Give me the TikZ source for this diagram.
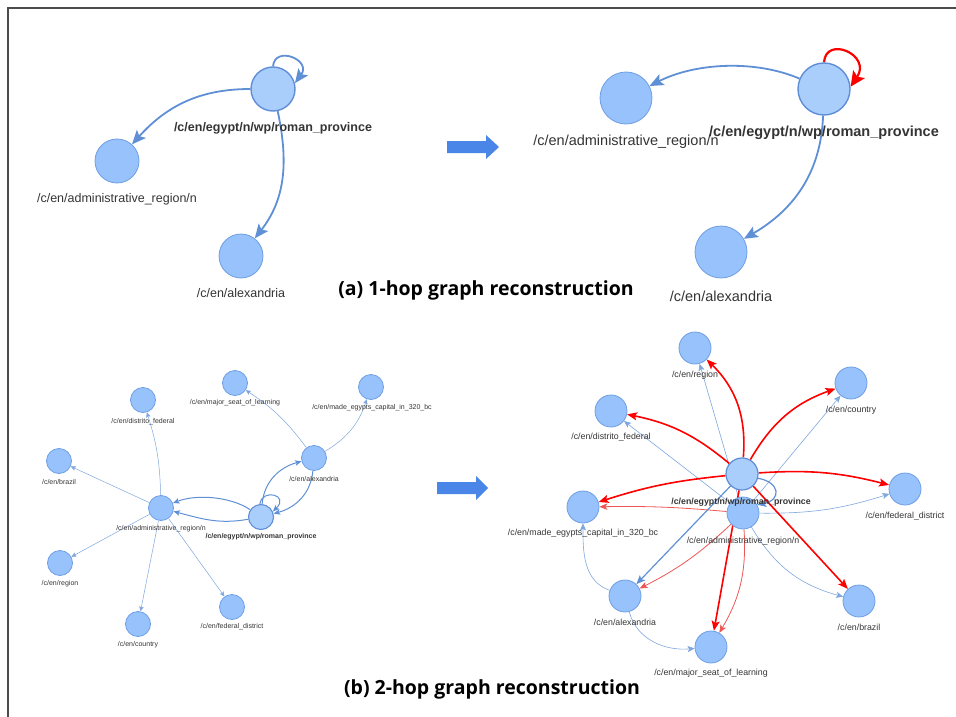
\documentclass[tikz,border=0pt]{standalone}
\usepackage{fontspec}
\setmainfont{Liberation Sans}
\newfontfamily\titlefont{Open Sans}
\usetikzlibrary{arrows.meta,backgrounds}
\definecolor{nodefill}{HTML}{97C2FC}
\definecolor{hubfill}{HTML}{AACEFC}
\definecolor{nodeline}{HTML}{6E9EE3}
\definecolor{hubline}{HTML}{5F8ED6}
\definecolor{edgeblue}{HTML}{5F8FD4}
\definecolor{thinblue}{HTML}{7FA6DD}
\definecolor{edgered}{HTML}{FF0000}
\definecolor{thinred}{HTML}{EE5555}
\definecolor{labtext}{HTML}{343434}
\definecolor{bigblue}{HTML}{4A86E8}

\begin{document}
\begin{tikzpicture}[x=1pt,y=-1pt,
  vtx/.style={circle,draw=nodeline,fill=nodefill,line width=0.8pt,inner sep=0pt},
  hub/.style={vtx,fill=hubfill,draw=hubline,line width=1.4pt},
  lab/.style={text=labtext,inner sep=0pt},
  labA/.style={lab,font=\fontsize{12.5}{14}\selectfont},
  labB/.style={lab,font=\fontsize{14.5}{16}\selectfont},
  labC/.style={lab,font=\fontsize{7}{8}\selectfont},
  labD/.style={lab,font=\fontsize{8.8}{10}\selectfont},
  title/.style={inner sep=0pt,font=\titlefont\bfseries\fontsize{19.5}{22}\selectfont},
  edgeA/.style={draw=edgeblue,line width=1.8pt,-{Stealth[length=14pt,width=12pt,inset=3pt]}},
  loopA/.style={draw=edgered,line width=2.2pt,-{Stealth[length=15pt,width=14pt,inset=3pt]}},
  thinC/.style={draw=thinblue,line width=0.5pt,-{Stealth[length=5pt,width=4.5pt,inset=1pt]}},
  boldC/.style={draw=edgeblue,line width=1pt,-{Stealth[length=6.5pt,width=5.5pt,inset=1.5pt]}},
  thinD/.style={draw=thinblue,line width=0.6pt,-{Stealth[length=7pt,width=6pt,inset=1.5pt]}},
  boldD/.style={draw=edgeblue,line width=1.2pt,-{Stealth[length=9pt,width=7.5pt,inset=2pt]}},
  redD/.style={draw=edgered,line width=1.6pt,-{Stealth[length=10pt,width=8pt,inset=2pt]}},
  pinkD/.style={draw=thinred,line width=0.8pt,-{Stealth[length=8pt,width=6.5pt,inset=2pt]}}]
\useasboundingbox (0,0) rectangle (956,717);
\draw[gray!60!black,line width=1.2pt] (8,717) -- (8,8) -- (956,8);

% (a) 1-hop, before
\node[hub,minimum size=44] (eg1) at (273,89) {};
\node[vtx,minimum size=44] (ad1) at (117,161) {};
\node[vtx,minimum size=44] (al1) at (241,256) {};
\node[labA,font=\fontsize{12.5}{14}\selectfont\bfseries] (eg1l) at (273,128) {/c/en/egypt/n/wp/roman\_province};
\node[labA] (ad1l) at (117,199) {/c/en/administrative\_region/n};
\node[labA] (al1l) at (241,293) {/c/en/alexandria};

% (a) 1-hop, after
\node[hub,minimum size=52] (eg2) at (824,89) {};
\node[vtx,minimum size=52] (ad2) at (626,98) {};
\node[vtx,minimum size=52] (al2) at (721,252) {};
\node[labB] (ad2l) at (626,142) {/c/en/administrative\_region/n};
\node[labB,font=\fontsize{14.5}{16}\selectfont\bfseries] (eg2l) at (824,133) {/c/en/egypt/n/wp/roman\_province};
\node[labB] (al2l) at (721,296) {/c/en/alexandria};

\fill[bigblue] (447,141) -- (486,141) -- (486,135) -- (499,147) -- (486,159) -- (486,153) -- (447,153) -- cycle;
\node[title] (ttlA) at (486,290) {(a) 1-hop graph reconstruction};

% (b) 2-hop, before
\node[vtx,minimum size=25] (df3) at (143,400) {};
\node[vtx,minimum size=25] (br3) at (59,461) {};
\node[vtx,minimum size=25] (ad3) at (161,508) {};
\node[vtx,minimum size=25] (rg3) at (60,563) {};
\node[vtx,minimum size=25] (co3) at (138,624) {};
\node[vtx,minimum size=25] (ms3) at (235,383) {};
\node[vtx,minimum size=25] (mc3) at (371,387) {};
\node[vtx,minimum size=25] (al3) at (314,458) {};
\node[hub,minimum size=25,line width=1.1pt] (eg3) at (261,517) {};
\node[vtx,minimum size=25] (fd3) at (232,607) {};
\node[labC] (df3l) at (143,422) {/c/en/distrito\_federal};
\node[labC] (br3l) at (59,482) {/c/en/brazil};
\node[labC] (ad3l) at (161,529) {/c/en/administrative\_region/n};
\node[labC] (rg3l) at (60,584) {/c/en/region};
\node[labC] (co3l) at (138,645) {/c/en/country};
\node[labC] (ms3l) at (235,403) {/c/en/major\_seat\_of\_learning};
\node[labC] (mc3l) at (372,408) {/c/en/made\_egypts\_capital\_in\_320\_bc};
\node[labC] (al3l) at (314,479) {/c/en/alexandria};
\node[labC,font=\fontsize{7}{8}\selectfont\bfseries] (eg3l) at (261,537) {/c/en/egypt/n/wp/roman\_province};
\node[labC] (fd3l) at (232,627) {/c/en/federal\_district};

\fill[bigblue] (437,482) -- (476,482) -- (476,476) -- (488,488) -- (476,500) -- (476,494) -- (437,494) -- cycle;
\node[title] (ttlB) at (492,689) {(b) 2-hop graph reconstruction};

% (b) 2-hop, after
\node[vtx,minimum size=32] (rg4) at (695,348) {};
\node[vtx,minimum size=32] (df4) at (611,411) {};
\node[vtx,minimum size=32] (mc4) at (583,507) {};
\node[vtx,minimum size=32] (ad4) at (743,513) {};
\node[hub,minimum size=32,line width=1.2pt] (eg4) at (742,474) {};
\node[vtx,minimum size=32] (co4) at (851,383) {};
\node[vtx,minimum size=32] (fd4) at (905,489) {};
\node[vtx,minimum size=32] (br4) at (859,601) {};
\node[vtx,minimum size=32] (al4) at (625,596) {};
\node[vtx,minimum size=32] (ms4) at (711,647) {};
\node[labD] (rg4l) at (695,375) {/c/en/region};
\node[labD] (df4l) at (611,437) {/c/en/distrito\_federal};
\node[labD] (mc4l) at (583,533) {/c/en/made\_egypts\_capital\_in\_320\_bc};
\node[labD] (ad4l) at (743,541) {/c/en/administrative\_region/n};
\node[labD,font=\fontsize{8.8}{10}\selectfont\bfseries] (eg4l) at (741,502) {/c/en/egypt/n/wp/roman\_province};
\node[labD] (co4l) at (851,410) {/c/en/country};
\node[labD] (fd4l) at (905,516) {/c/en/federal\_district};
\node[labD] (br4l) at (859,627) {/c/en/brazil};
\node[labD] (al4l) at (625,622) {/c/en/alexandria};
\node[labD] (ms4l) at (711,673) {/c/en/major\_seat\_of\_learning};

\begin{scope}[on background layer]
% (a) edges
\draw[edgeA] (eg1) to[out=180,in=48] (ad1);
\draw[edgeA] (eg1) to[out=-78,in=52] (al1);
\draw[edgeA] (eg1.90) .. controls (275,45) and (312,60) .. (eg1.15);
\draw[edgeA] (eg2) to[out=157,in=27,looseness=0.85] (ad2);
\draw[edgeA] (eg2) to[out=-92,in=30] (al2);
\draw[loopA] (eg2.90) .. controls (826,35) and (872,55) .. (eg2.5);
% (b) edges, before
\draw[thinC] (ad3) to[bend right=8] (df3);
\draw[thinC] (ad3) -- (br3);
\draw[thinC] (ad3) -- (rg3);
\draw[thinC] (ad3) -- (co3);
\draw[thinC] (ad3) -- (fd3);
\draw[boldC] (eg3) to[out=146,in=22,looseness=0.8] (ad3);
\draw[boldC] (eg3) to[out=190,in=-15] (ad3);
\draw[boldC] (eg3.95) .. controls (262,488) and (290,495) .. (eg3.25);
\draw[boldC] (eg3) to[out=85,in=-165] (al3);
\draw[boldC] (al3) to[out=-95,in=15] (eg3);
\draw[thinC] (al3) to[bend right=10] (ms3);
\draw[thinC] (al3) to[bend right=20] (mc3);
% (b) edges, after
\draw[thinD] (ad4) -- (rg4);
\draw[thinD] (ad4) -- (df4);
\draw[thinD] (ad4) -- (co4);
\draw[thinD] (ad4) to[bend right=9] (fd4);
\draw[thinD] (ad4) to[bend right=22] (br4);
\draw[pinkD] (ad4) to[bend right=3] (mc4);
\draw[pinkD] (ad4) to[bend left=8] (al4);
\draw[pinkD] (ad4) to[bend left=17] (ms4);
\draw[thinD] (al4) to[out=160,in=-90] (mc4);
\draw[thinD] (al4) to[out=-75,in=185] (ms4);
\draw[boldD] (eg4) -- (al4);
\draw[boldD] (eg4.-15) .. controls (780,482) and (782,500) .. (ad4.30);
\draw[redD] (eg4) to[bend right=25] (rg4);
\draw[redD] (eg4) to[bend right=14] (df4);
\draw[redD] (eg4) to[bend right=6] (mc4);
\draw[redD] (eg4) to[bend left=20] (co4);
\draw[redD] (eg4) to[bend left=9] (fd4);
\draw[redD] (eg4) -- (br4);
\draw[redD] (eg4) -- (ms4);
\end{scope}
\end{tikzpicture}
\end{document}
